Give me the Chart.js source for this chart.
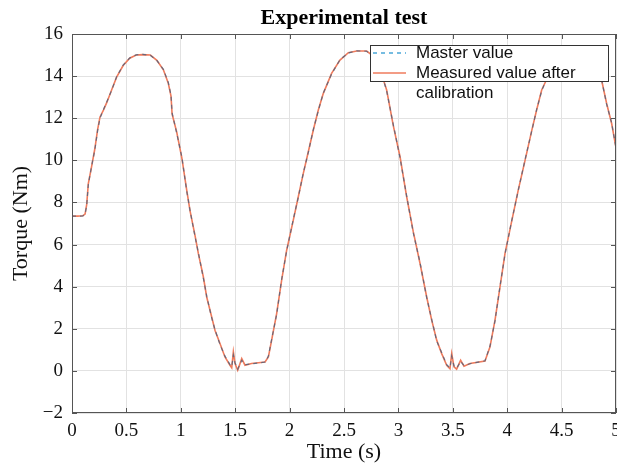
<!DOCTYPE html>
<html>
<head>
<meta charset="utf-8">
<title>Experimental test</title>
<script src="https://cdn.jsdelivr.net/npm/chart.js@4.4.1/dist/chart.umd.min.js"></script>
<style>
  html, body { margin: 0; padding: 0; background: #fff; }
  canvas { display: block; }
</style>
</head>
<body>
<canvas id="chart" width="617" height="468"></canvas>
<script>
// values
const time = [
  0, 0.05, 0.1, 0.12, 0.135, 0.15, 0.18, 0.21, 0.235, 0.257,
  0.29, 0.32, 0.365, 0.41, 0.47, 0.53, 0.59, 0.65, 0.72, 0.78,
  0.84, 0.885, 0.91, 0.92, 0.962, 1.01, 1.054, 1.085, 1.13, 1.161,
  1.207, 1.238, 1.284, 1.314, 1.36, 1.406, 1.452, 1.468, 1.483, 1.498,
  1.523, 1.56, 1.59, 1.65, 1.774, 1.805, 1.835, 1.881, 1.927, 1.973,
  2.034, 2.08, 2.126, 2.172, 2.218, 2.264, 2.31, 2.386, 2.463, 2.54,
  2.617, 2.708, 2.77, 2.83, 2.892, 2.953, 3.015, 3.076, 3.137, 3.199,
  3.26, 3.306, 3.352, 3.398, 3.444, 3.474, 3.49, 3.511, 3.535, 3.572,
  3.603, 3.658, 3.796, 3.842, 3.888, 3.934, 3.98, 4.041, 4.102, 4.164,
  4.225, 4.271, 4.317, 4.363, 4.41, 4.46, 4.52, 4.58, 4.65, 4.72,
  4.78, 4.83, 4.868, 4.914, 4.96, 5.0
];
const measuredTorque = [
  7.35, 7.35, 7.37, 7.45, 7.9, 8.9, 9.7, 10.55, 11.45, 12.05,
  12.4, 12.75, 13.35, 13.95, 14.5, 14.85, 15.0, 15.02, 15.0, 14.75,
  14.3, 13.66, 13.05, 12.2, 11.35, 10.1, 8.6, 7.6, 6.45, 5.58,
  4.47, 3.51, 2.56, 1.93, 1.3, 0.66, 0.27, 0.15, 0.9, 0.35,
  0.03, 0.58, 0.27, 0.35, 0.42, 0.66, 1.46, 2.72, 4.31, 5.73,
  7.16, 8.27, 9.38, 10.41, 11.44, 12.39, 13.18, 14.13, 14.76, 15.11,
  15.19, 15.19, 14.95, 14.35, 13.34, 11.65, 10.17, 8.27, 6.6, 5.1,
  3.51, 2.41, 1.46, 0.82, 0.27, 0.1, 0.82, 0.19, 0.08, 0.5,
  0.22, 0.35, 0.47, 1.14, 2.41, 3.99, 5.58, 7.1, 8.6, 10.0,
  11.4, 12.4, 13.34, 13.85, 14.35, 14.75, 15.05, 15.18, 15.2, 15.15,
  14.8, 14.3, 13.8, 12.7, 11.75, 10.6
];
const masterTorque = [
  7.35, 7.35, 7.36, 7.44, 7.85, 8.85, 9.72, 10.5, 11.4, 12.0,
  12.42, 12.78, 13.33, 13.97, 14.52, 14.86, 15.01, 15.03, 14.99, 14.74,
  14.32, 13.7, 13.1, 12.25, 11.3, 10.15, 8.55, 7.62, 6.4, 5.62,
  4.42, 3.55, 2.52, 1.96, 1.25, 0.7, 0.3, 0.2, 0.75, 0.4,
  0.08, 0.5, 0.3, 0.33, 0.42, 0.7, 1.5, 2.68, 4.35, 5.7,
  7.2, 8.25, 9.4, 10.38, 11.46, 12.36, 13.2, 14.1, 14.78, 15.1,
  15.2, 15.18, 14.93, 14.38, 13.3, 11.7, 10.12, 8.3, 6.55, 5.14,
  3.48, 2.45, 1.42, 0.86, 0.3, 0.14, 0.7, 0.24, 0.12, 0.45,
  0.25, 0.34, 0.48, 1.18, 2.38, 4.02, 5.55, 7.12, 8.58, 10.03,
  11.38, 12.42, 13.3, 13.88, 14.33, 14.77, 15.04, 15.19, 15.21, 15.14,
  14.82, 14.28, 13.82, 12.66, 11.78, 10.58
];
const xTicks = [0, 0.5, 1, 1.5, 2, 2.5, 3, 3.5, 4, 4.5, 5];
const yTicks = [-2, 0, 2, 4, 6, 8, 10, 12, 14, 16];
const seriesNames = ['Master value', 'Measured value after\ncalibration'];

const serif = "'Liberation Serif', 'Times New Roman', serif";
const sans = "'Liberation Sans', Arial, sans-serif";
const gridColor = '#e2e2e2';
const frameColor = '#555';

const toPoints = vals => time.map((t, i) => ({ x: t, y: vals[i] }));

// title centred over the plot area, like the matlab figure
const plotTitle = {
  id: 'plotTitle',
  afterDraw(chart) {
    const { ctx, chartArea } = chart;
    ctx.save();
    ctx.font = 'bold 22px ' + serif;
    ctx.fillStyle = '#000';
    ctx.textAlign = 'center';
    ctx.textBaseline = 'middle';
    ctx.fillText('Experimental test', (chartArea.left + chartArea.right) / 2, 18);
    ctx.restore();
  }
};

// box round the axes with inward tick marks
const frame = {
  id: 'frame',
  afterDatasetsDraw(chart) {
    const { ctx, chartArea: a, scales } = chart;
    ctx.save();
    ctx.strokeStyle = frameColor;
    ctx.lineWidth = 1;
    ctx.strokeRect(a.left + 0.5, a.top + 0.5, a.right - a.left - 1, a.bottom - a.top - 1);
    ctx.beginPath();
    xTicks.forEach(v => {
      const px = Math.round(scales.x.getPixelForValue(v)) + 0.5;
      ctx.moveTo(px, a.bottom); ctx.lineTo(px, a.bottom - 5);
      ctx.moveTo(px, a.top); ctx.lineTo(px, a.top + 5);
    });
    yTicks.forEach(v => {
      const py = Math.round(scales.y.getPixelForValue(v)) + 0.5;
      ctx.moveTo(a.left, py); ctx.lineTo(a.left + 5, py);
      ctx.moveTo(a.right, py); ctx.lineTo(a.right - 5, py);
    });
    ctx.stroke();
    ctx.restore();
  }
};

// legend box drawn over the lines; second label runs out of the box as in the reference
const boxLegend = {
  id: 'boxLegend',
  afterDatasetsDraw(chart) {
    const { ctx } = chart;
    const bx = 370, by = 45, bw = 238, bh = 36;
    ctx.save();
    ctx.fillStyle = '#fff';
    ctx.fillRect(bx, by, bw, bh);
    ctx.strokeStyle = '#333';
    ctx.lineWidth = 1;
    ctx.strokeRect(bx + 0.5, by + 0.5, bw, bh);
    ctx.font = '17px ' + sans;
    ctx.textBaseline = 'middle';
    let y = 53;
    chart.data.datasets.forEach(ds => {
      ctx.strokeStyle = ds.legendColor;
      ctx.lineWidth = 1.5;
      ctx.setLineDash(ds.borderDash || []);
      ctx.beginPath();
      ctx.moveTo(373, y); ctx.lineTo(406, y);
      ctx.stroke();
      ctx.setLineDash([]);
      ctx.fillStyle = '#111';
      ds.label.split('\n').forEach(line => {
        ctx.fillText(line, 416, y);
        y += 20;
      });
    });
    ctx.restore();
  }
};

new Chart(document.getElementById('chart'), {
  type: 'line',
  data: {
    datasets: [
      {
        label: seriesNames[0],
        data: toPoints(masterTorque),
        borderColor: 'rgba(60, 95, 130, 0.75)',
        legendColor: '#4aa6d8',
        borderWidth: 1.2,
        borderDash: [4, 4],
        pointRadius: 0,
        tension: 0
      },
      {
        label: seriesNames[1],
        data: toPoints(measuredTorque),
        borderColor: '#ef7b5c',
        legendColor: '#ef7b5c',
        borderWidth: 1.6,
        pointRadius: 0,
        tension: 0
      }
    ]
  },
  options: {
    responsive: false,
    animation: false,
    devicePixelRatio: 1,
    layout: { padding: { top: 34, right: 1, left: 0, bottom: 0 } },
    plugins: {
      legend: { display: false },
      title: { display: false },
      tooltip: { enabled: false }
    },
    scales: {
      x: {
        type: 'linear',
        min: 0,
        max: 5,
        afterBuildTicks: s => { s.ticks = xTicks.map(v => ({ value: v })); },
        afterFit: s => { s.height = 55; s.paddingLeft = 0; s.paddingRight = 0; },
        grid: { color: gridColor, drawTicks: false },
        border: { display: false },
        ticks: {
          font: { family: serif, size: 19 },
          color: '#111',
          padding: 7,
          maxRotation: 0,
          autoSkip: false,
          callback: v => String(v)
        },
        title: {
          display: true,
          text: 'Time (s)',
          font: { family: serif, size: 22 },
          color: '#111',
          padding: { top: 0, bottom: 3 }
        }
      },
      y: {
        type: 'linear',
        min: -2,
        max: 16,
        afterBuildTicks: s => { s.ticks = yTicks.map(v => ({ value: v })); },
        afterFit: s => { s.width = 72; },
        grid: { color: gridColor, drawTicks: false },
        border: { display: false },
        ticks: {
          font: { family: serif, size: 19 },
          color: '#111',
          padding: 9,
          callback: v => (v < 0 ? '\u2212' + Math.abs(v) : String(v))
        },
        title: {
          display: true,
          text: 'Torque (Nm)',
          font: { family: serif, size: 22 },
          color: '#111',
          padding: { top: 8, bottom: 0 }
        }
      }
    }
  },
  plugins: [plotTitle, frame, boxLegend]
});
</script>
</body>
</html>
